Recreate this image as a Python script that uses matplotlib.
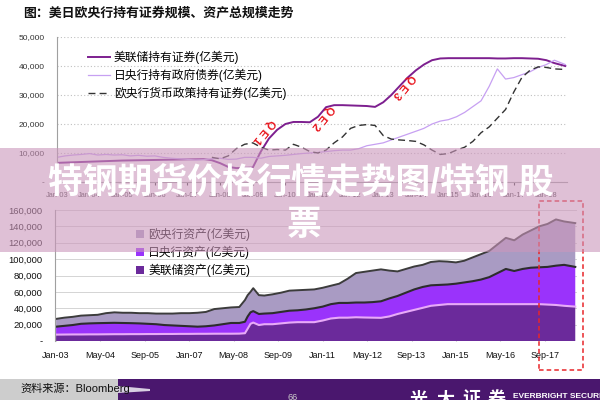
import numpy as np
import pandas as pd
import matplotlib
matplotlib.use("Agg")
import matplotlib.pyplot as plt
import matplotlib.dates as mdates
import matplotlib.ticker as mticker
from matplotlib.patches import Rectangle, Polygon

plt.rcParams['font.family'] = ['Liberation Sans', 'Noto Sans CJK SC', 'DejaVu Sans']

# ---- top chart: securities held (100m USD), quarterly ----
top_dates = [f"{y}-{m:02d}" for y in range(2003, 2019) for m in (1, 4, 7, 10)][:62] + ["2018-08"]

fed_securities = [6600, 6700, 6800, 6900, 7000, 7100, 7200, 7300,
                  7400, 7450, 7500, 7550, 7600, 7650, 7700, 7750,
                  7800, 7850, 7900, 7500, 6500, 5200, 4800, 4900,
                  5000, 10500, 15000, 18000, 20000, 20700, 20700, 20600,
                  22500, 25800, 26500, 26500, 26400, 26300, 26200, 25900,
                  27500, 30000, 33000, 36000, 38500, 40500, 42000, 42600,
                  42700, 42700, 42700, 42700, 42700, 42700, 42600, 42600,
                  42700, 42700, 42600, 42500, 42000, 41000, 40000]

boj_jgb = [8500, 9000, 9300, 9500, 9800, 9300, 9500, 9300,
           9400, 9000, 9200, 8900, 9000, 8500, 8200, 8000,
           7800, 7600, 7700, 8000, 8200, 7800, 7900, 8500,
           8500, 8200, 8800, 9000, 9200, 9500, 9800, 10000,
           10200, 10500, 10800, 11000, 11000, 11500, 12500, 13000,
           13500, 14500, 15500, 16500, 17500, 18500, 20000, 21000,
           21500, 22500, 24000, 26000, 28000, 33000, 39000, 35500,
           36000, 37000, 38000, 39500, 40500, 42000, 40500]

ecb_securities = [None] * 19 + [8500,
                  8000, 9000, 11500, 13000, 13500, 12000, 11000, 11200,
                  11000, 13000, 12000, 10500, 10000, 11000, 13500, 15500,
                  18500, 19500, 19800, 19500, 16000, 14800, 14500, 14300,
                  14000, 12800, 11000, 9500, 9800, 11000, 12000, 14000,
                  17000, 19000, 22000, 25000, 31000, 36000, 38500, 39700,
                  39500, 39000, 38800]

# ---- bottom chart: total assets (100m USD) ----
bottom_dates = ["2003-01", "2003-04", "2003-07", "2003-10", "2004-01", "2004-04", "2004-07", "2004-10",
                "2005-01", "2005-04", "2005-07", "2005-10", "2006-01", "2006-04", "2006-07", "2006-10",
                "2007-01", "2007-04", "2007-07", "2007-10",
                "2008-01", "2008-04", "2008-07", "2008-09", "2008-10", "2008-11", "2008-12",
                "2009-02", "2009-04", "2009-07", "2009-10",
                "2010-01", "2010-04", "2010-07", "2010-10", "2011-01", "2011-04", "2011-07", "2011-10",
                "2012-01", "2012-04", "2012-07", "2012-10", "2013-01", "2013-04", "2013-07", "2013-10",
                "2014-01", "2014-04", "2014-07", "2014-10", "2015-01", "2015-04", "2015-07", "2015-10",
                "2016-01", "2016-04", "2016-07", "2016-10", "2017-01", "2017-04", "2017-07", "2017-10",
                "2018-01", "2018-04", "2018-08"]

fed_assets = [7800, 7900, 8000, 8000, 8100, 8100, 8200, 8300,
              8300, 8400, 8400, 8500, 8500, 8600, 8600, 8700,
              8700, 8800, 8800, 8900,
              8900, 8900, 9000, 9500, 15000, 21000, 22500,
              19500, 20500, 20500, 21500,
              22500, 23000, 23000, 23000, 25000, 27500, 28500, 28500,
              29000, 28700, 28500, 28300, 30000, 33000, 35500, 38000,
              40500, 43000, 44000, 45000, 45000, 45000, 45000, 45000,
              45000, 45000, 45000, 45000, 45000, 45000, 45000, 44500,
              44000, 43000, 42000]

boj_assets = [9700, 10600, 11500, 13000, 13400, 13700, 13800, 13900,
              13700, 13400, 13100, 12500, 12000, 10900, 10400, 9800,
              9300, 8700, 9200, 10100,
              11600, 13100, 13000, 14000, 15000, 14000, 14000,
              13500, 13000, 13500, 14000,
              14500, 14500, 15500, 17000, 17000, 17500, 18000, 18000,
              18000, 18300, 19000, 20200, 22000, 22000, 23500, 25000,
              25500, 25000, 24500, 24000, 25000, 26500, 28000, 30000,
              33000, 38000, 43000, 40500, 43000, 44500, 45000, 46000,
              48000, 50000, 48500]

ecb_assets = [9500, 10000, 10000, 10000, 10000, 10200, 12000, 12800,
              12500, 12700, 12500, 13000, 13000, 14000, 14500, 15500,
              16000, 17000, 17500, 20000,
              19500, 19000, 19500, 26500, 26000, 25000, 28000,
              23000, 22000, 23000, 23500,
              24500, 24500, 24000, 23000, 23000, 22500, 23500, 29500,
              36000, 37500, 38500, 39000, 34000, 30000, 29000, 28000,
              27000, 28500, 29000, 28000, 26000, 26500, 29000, 31000,
              32000, 35000, 38000, 37500, 42000, 45500, 50000, 52500,
              56500, 53000, 53500]

top_x = pd.to_datetime(top_dates)
bot_x = pd.to_datetime(bottom_dates)
ecb_securities = np.array(ecb_securities, dtype=float)

W, H = 600, 400
fig = plt.figure(figsize=(6, 4), dpi=100)


def box(x0, y0, x1, y1):
    return [x0 / W, 1 - y1 / H, (x1 - x0) / W, (y1 - y0) / H]


def num_fmt(v, pos):
    return "-" if v == 0 else f"{int(v):,}"


xmin, xmax = pd.Timestamp("2003-01-01"), pd.Timestamp("2018-08-20")

# ---------------- top chart ----------------
ax1 = fig.add_axes(box(57, 37, 567, 182))
ax1.plot(top_x, fed_securities, color="#7d1f8f", lw=1.4, label="美联储持有证券(亿美元)")
ax1.plot(top_x, boj_jgb, color="#c7a0f2", lw=0.9, label="日央行持有政府债券(亿美元)")
ax1.plot(top_x, ecb_securities, color="#333333", lw=1.0, dashes=(5, 3),
         label="欧央行货币政策持有证券(亿美元)")
ax1.set_xlim(xmin, xmax)
ax1.set_ylim(0, 50000)
ax1.yaxis.set_major_locator(mticker.MultipleLocator(10000))
ax1.yaxis.set_major_formatter(mticker.FuncFormatter(num_fmt))
ax1.xaxis.set_major_locator(mdates.YearLocator())
ax1.xaxis.set_major_formatter(mdates.DateFormatter("%b-%y"))
ax1.yaxis.grid(True, color="#c0c0c0", lw=0.8, linestyle=(0, (1, 2)))
ax1.set_axisbelow(True)
for s in ("top", "right"):
    ax1.spines[s].set_visible(False)
ax1.spines["left"].set_color("#a0a0a0")
ax1.spines["bottom"].set_color("#a0a0a0")
ax1.tick_params(axis="y", labelsize=6, colors="#333333", length=0, pad=9)
ax1.tick_params(axis="x", labelsize=5.3, colors="#444444", length=2, pad=5)
ax1.legend(loc="upper left", bbox_to_anchor=(88 / W, 1 - 51 / H), bbox_transform=fig.transFigure,
           frameon=False, fontsize=8.5, handlelength=1.9, handletextpad=0.3,
           labelspacing=0.38, borderpad=0, borderaxespad=0)

qe_labels = ["Q E 1", "Q E 2", "Q E 3"]
qe_pos = [("2009-05-01", 17600), ("2011-02-20", 22400), ("2013-08-20", 33100)]
for lab, (d, v) in zip(qe_labels, qe_pos):
    ax1.text(pd.Timestamp(d), v, lab, color="#e8141c", fontsize=8, fontweight="bold",
             rotation=230, ha="center", va="center", rotation_mode="anchor")

# ---------------- bottom chart ----------------
ax2 = fig.add_axes(box(55, 210, 577, 341))
polys = ax2.stackplot(bot_x, fed_assets, boj_assets, ecb_assets,
                      colors=["#6b2a9b", "#9a33fb", "#a99bc3"],
                      labels=["美联储资产(亿美元)", "日央行资产(亿美元)", "欧央行资产(亿美元)"])
fed_top = np.array(fed_assets)
boj_top = fed_top + np.array(boj_assets)
ecb_top = boj_top + np.array(ecb_assets)
ax2.plot(bot_x, fed_top, color="#e8aaf8", lw=1.5)
ax2.plot(bot_x, boj_top, color="#2d2d2d", lw=1.5)
ax2.plot(bot_x, ecb_top, color="#3c3c3c", lw=1.4)
ax2.set_xlim(pd.Timestamp("2002-12-20"), xmax)
ax2.set_ylim(0, 160000)
ax2.yaxis.set_major_locator(mticker.MultipleLocator(20000))
ax2.yaxis.set_major_formatter(mticker.FuncFormatter(num_fmt))
ax2.set_xticks(pd.date_range("2003-01-01", periods=12, freq="16MS"))
ax2.xaxis.set_major_formatter(mdates.DateFormatter("%b-%y"))
ax2.yaxis.grid(True, color="#d4d4d4", lw=0.7)
ax2.set_axisbelow(True)
for s in ("top", "right", "bottom"):
    ax2.spines[s].set_visible(False)
ax2.spines["left"].set_color("#a0a0a0")
ax2.tick_params(axis="y", labelsize=6.8, colors="#111111", length=0, pad=9)
ax2.tick_params(axis="x", labelsize=6.5, colors="#111111", length=3, direction="in",
                color="#bbbbbb", pad=7)
h, l = ax2.get_legend_handles_labels()
ax2.legend(h[::-1], l[::-1], loc="upper left", bbox_to_anchor=(136 / W, 1 - 228 / H),
           bbox_transform=fig.transFigure, frameon=False, fontsize=8.5,
           handlelength=0.65, handleheight=0.65, handletextpad=0.4,
           labelspacing=0.4, borderpad=0, borderaxespad=0)

# ---------------- page decorations ----------------
fig.text(23 / W, 1 - 13 / H, "图：美日欧央行持有证券规模、资产总规模走势",
         fontsize=9.3, fontweight="bold", va="center", color="#111111")

fig.add_artist(Rectangle((539 / W, 1 - 370 / H), 44 / W, 169 / H, transform=fig.transFigure,
                         fill=False, edgecolor="#e8262a", lw=1.1, linestyle=(0, (3, 2)), zorder=5))

# footer
fig.add_artist(Rectangle((0, 0), 118 / W, 21 / H, transform=fig.transFigure,
                         facecolor="#cdcdcd", edgecolor="none", zorder=6))
fig.add_artist(Rectangle((118 / W, 0), 482 / W, 21 / H, transform=fig.transFigure,
                         facecolor="#4a176e", edgecolor="none", zorder=6))
fig.add_artist(Polygon([(118 / W, 1 - 386 / H), (150 / W, 1 - 389 / H), (150 / W, 1 - 391 / H),
                        (118 / W, 1 - 393 / H)], closed=True, transform=fig.transFigure,
                       facecolor="#d8cfe2", edgecolor="none", zorder=7))
fig.text(20 / W, 1 - 388 / H, "资料来源：Bloomberg", fontsize=8, va="center", color="#111111", zorder=8)
fig.text(288 / W, 1 - 397 / H, "66", fontsize=6.5, va="center", color="#cccccc", zorder=8)
for i, ch in enumerate("光大证券"):
    fig.text((410 + 26 * i) / W, 1 - 400 / H, ch, fontsize=13, va="center", color="white",
             fontweight="bold", zorder=8)
fig.text(513 / W, 1 - 397 / H, "EVERBRIGHT SECURITIES", fontsize=6, va="center", color="white",
         fontweight="bold", zorder=8)

# pink banner with headline
fig.add_artist(Rectangle((0, 1 - 252 / H), 1, 104 / H, transform=fig.transFigure,
                         facecolor=(203 / 255, 150 / 255, 187 / 255), alpha=0.6,
                         edgecolor="none", zorder=10))
fig.text(0.502, 1 - 183 / H, "特钢期货价格行情走势图/特钢 股", ha="center", va="center",
         color="white", fontsize=25, fontweight="bold", zorder=11)
fig.text(0.506, 1 - 225 / H, "票", ha="center", va="center",
         color="white", fontsize=25, fontweight="bold", zorder=11)

fig.savefig("out.png", dpi=100)
